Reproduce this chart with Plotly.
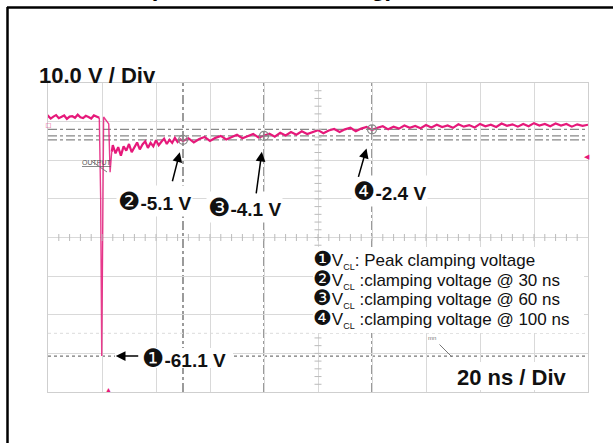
import plotly.graph_objects as go

# ---------------- data (ns, V) ----------------
pre_t = [-2.2, -1, 0, 1, 2, 3, 4, 5, 6, 7, 8, 9, 10, 11, 12, 13, 14, 15, 16, 17, 18, 19]
pre_v = [0.9, 0.5, 1.1, 0.4, 0.9, 1.3, 0.5, 0.8, 1.2, 0.3, 0.9, 1.0, 0.6, 1.4, 0.7, 0.5, 1.1, 0.8, 0.4, 1.2, 0.9, 0.6]

pulse_t = [19, 19.5, 19.9, 20.3, 20.6, 22.5, 23.0, 23.6]
pulse_v = [0.6, -20.0, -61.1, -35.0, 0.8, -1.0, -13.5, -8.2]

post_t = [23.6, 24, 25, 26, 27, 28, 29, 30, 31, 32, 33, 34, 35, 36, 37, 38, 39, 40, 41, 42, 43, 44, 45, 46,
          47, 48, 49, 50, 52, 54, 56, 58, 60, 62, 64, 66, 68, 70, 72, 74, 76, 78, 80, 82, 84, 86, 88, 90,
          92, 94, 96, 98, 100, 102, 104, 106, 108, 110, 112, 114, 116, 118, 120, 122, 124, 126, 128, 130,
          132, 134, 136, 138, 140, 142, 144, 146, 148, 150, 152, 154, 156, 158, 160, 162, 164, 166, 168,
          170, 172, 174, 176, 178, 180, 182, 184, 186, 188, 190, 192, 194, 196, 198, 200]
post_v = [-8.2, -6.5, -8.6, -7.0, -9.2, -6.8, -7.9, -6.2, -8.3, -6.9, -5.8, -7.6, -6.3, -5.5, -7.2, -5.9,
          -6.8, -5.2, -6.5, -5.6, -4.8, -6.2, -5.1, -5.9, -4.6, -5.7, -5.0, -5.4, -4.7, -5.8, -4.9, -4.4,
          -5.4, -4.6, -4.1, -5.0, -4.3, -3.8, -4.7, -4.2, -3.6, -4.5, -4.0, -3.5, -4.3, -3.3, -4.0, -3.1,
          -3.8, -2.9, -3.6, -3.0, -2.6, -3.4, -2.7, -2.3, -3.1, -2.4, -2.0, -2.9, -2.2, -1.8, -2.6, -2.0,
          -1.6, -2.4, -1.7, -2.2, -1.4, -2.0, -1.5, -2.1, -1.3, -1.9, -1.2, -1.8, -1.4, -2.0, -1.1, -1.7,
          -1.3, -1.9, -1.0, -1.6, -1.2, -1.8, -0.9, -1.5, -1.1, -1.7, -1.0, -1.6, -0.8, -1.4, -1.0, -1.6,
          -0.9, -1.4, -1.0, -1.7, -1.1, -1.5, -1.2]

cursor_t = [50, 80, 120]          # ns
cursor_v = [-5.1, -4.1, -2.4]     # V
peak_t = 19.9
peak_v = -61.1
faint_v = -55.2
labels = ["\u2777-5.1 V", "\u2778-4.1 V", "\u2779-2.4 V"]
peak_label = "\u2776-61.1 V"
legend_num = ["\u2776", "\u2777", "\u2778", "\u2779"]
legend_txt = [": Peak clamping voltage",
              " :clamping voltage @ 30 ns",
              " :clamping voltage @ 60 ns",
              " :clamping voltage @ 100 ns"]

X0, X1 = 0, 200
Y0, Y1 = -70.4, 9.6
PINK = "#e6197a"

# plot area in pixels
L, R, T, B = 48, 588, 83, 392
W, H = 613, 443


def px(x):
    return (x - L) / (R - L)


def py(y):
    return (B - y) / (B - T)


fig = go.Figure()

fig.add_trace(go.Scatter(x=pre_t, y=pre_v, mode="lines",
                         line=dict(color=PINK, width=2.2), hoverinfo="skip"))
fig.add_trace(go.Scatter(x=pulse_t, y=pulse_v, mode="lines",
                         line=dict(color=PINK, width=1.4), opacity=0.85, hoverinfo="skip"))
fig.add_trace(go.Scatter(x=post_t, y=post_v, mode="lines",
                         line=dict(color=PINK, width=2.2), hoverinfo="skip"))

# cursor markers
fig.add_trace(go.Scatter(x=cursor_t, y=cursor_v, mode="markers",
                         marker=dict(symbol="circle-cross-open", size=9, color="#888888",
                                     line=dict(width=1.2, color="#888888")), hoverinfo="skip"))

# center-line minor ticks
ct = [X0 + i * 4 for i in range(1, 50)]
cv = [Y0 + i * 2 for i in range(1, 40)]
ymid = (Y0 + Y1) / 2
xmid = (X0 + X1) / 2
fig.add_trace(go.Scatter(x=ct, y=[ymid] * len(ct), mode="markers",
                         marker=dict(symbol="line-ns", size=5, line=dict(width=1, color="#bbbbbb")),
                         hoverinfo="skip"))
fig.add_trace(go.Scatter(x=[xmid] * len(cv), y=cv, mode="markers",
                         marker=dict(symbol="line-ew", size=5, line=dict(width=1, color="#bbbbbb")),
                         hoverinfo="skip"))

shapes = []
for t in cursor_t:
    shapes.append(dict(type="line", xref="x", yref="y", x0=t, x1=t, y0=Y0, y1=Y1,
                       line=dict(color="#666666", width=1.3, dash="dashdot"), layer="below"))
for v in cursor_v:
    shapes.append(dict(type="line", xref="x", yref="y", x0=X0, x1=X1, y0=v, y1=v,
                       line=dict(color="#888888", width=1.2, dash="dashdot"), layer="below"))
shapes.append(dict(type="line", xref="x", yref="y", x0=X0, x1=X1, y0=peak_v, y1=peak_v,
                   line=dict(color="#777777", width=1.2, dash="dot"), layer="below"))
shapes.append(dict(type="line", xref="x", yref="y", x0=X0, x1=X1, y0=faint_v, y1=faint_v,
                   line=dict(color="#e2e2e2", width=1.2, dash="dot"), layer="below"))

# white boxes
shapes.append(dict(type="rect", xref="paper", yref="paper", x0=px(313), x1=px(584), y0=py(333), y1=py(247),
                   fillcolor="white", line=dict(width=0), layer="above"))
shapes.append(dict(type="rect", xref="paper", yref="paper", x0=px(115), x1=px(233), y0=py(368), y1=py(348),
                   fillcolor="white", line=dict(width=0), layer="above"))
shapes.append(dict(type="rect", xref="paper", yref="paper", x0=px(450), x1=px(580), y0=py(390), y1=py(362),
                   fillcolor="white", line=dict(width=0), layer="above"))

# black page frame
shapes.append(dict(type="line", xref="paper", yref="paper", x0=px(7), x1=px(613), y0=py(7.5), y1=py(7.5),
                   line=dict(color="black", width=2.5)))
shapes.append(dict(type="line", xref="paper", yref="paper", x0=px(7.5), x1=px(7.5), y0=py(7), y1=py(443),
                   line=dict(color="black", width=2.5)))

ann = []
# cut-off heading fragments at the very top (only their lowest pixels are on the page)
ann.append(dict(xref="paper", yref="paper", x=px(148), y=py(2), xanchor="left", yanchor="bottom",
                text="<b>(</b>", showarrow=False, borderpad=0,
                font=dict(family="Liberation Sans", size=24, color="black")))
ann.append(dict(xref="paper", yref="paper", x=px(370), y=py(2), xanchor="left", yanchor="bottom",
                text="<b>g)</b>", showarrow=False, borderpad=0,
                font=dict(family="Liberation Sans", size=24, color="black")))

ann.append(dict(xref="paper", yref="paper", x=px(37), y=py(75), xanchor="left", yanchor="middle",
                text="<b>10.0 V / Div</b>", showarrow=False,
                font=dict(family="Liberation Sans, Arial", size=22, color="#111111")))
ann.append(dict(xref="paper", yref="paper", x=px(455), y=py(377), xanchor="left", yanchor="middle",
                text="<b>20 ns / Div</b>", showarrow=False,
                font=dict(family="Liberation Sans, Arial", size=22, color="#111111")))

lab_pos = [(116, 201), (206, 207), (351, 191)]
for (lx, ly), txt in zip(lab_pos, labels):
    c, rest = txt[0], txt[1:]
    ann.append(dict(xref="paper", yref="paper", x=px(lx), y=py(ly), xanchor="left", yanchor="middle",
                    text=f"<span style='font-size:25px'>{c}</span><b>{rest}</b>", showarrow=False,
                    bgcolor="white", borderpad=1,
                    font=dict(family="Liberation Sans, DejaVu Sans", size=19, color="#111111")))
ann.append(dict(xref="paper", yref="paper", x=px(140), y=py(358), xanchor="left", yanchor="middle",
                text=f"<span style='font-size:25px'>{peak_label[0]}</span><b>{peak_label[1:]}</b>",
                showarrow=False,
                font=dict(family="Liberation Sans, DejaVu Sans", size=19, color="#111111")))

leg_y = [259, 279, 298, 318]
for ly, num, txt in zip(leg_y, legend_num, legend_txt):
    ann.append(dict(xref="paper", yref="paper", x=px(312), y=py(ly), xanchor="left", yanchor="middle",
                    text=(f"<span style='font-size:21px'>{num}</span>V"
                          f"<sub><span style='font-size:9px'>CL</span></sub>{txt}"),
                    showarrow=False, borderpad=0,
                    font=dict(family="Liberation Sans, DejaVu Sans", size=17, color="#111111")))

# arrows
arrow_off = [(-11, 43, 13), (-8, 59, 16), (-14, 49, 20)]
for t, v, (ax, ay, so) in zip(cursor_t, cursor_v, arrow_off):
    ann.append(dict(xref="x", yref="y", x=t, y=v, ax=ax, ay=ay, text="", showarrow=True,
                    arrowhead=2, arrowsize=1.3, arrowwidth=1.5, arrowcolor="black", standoff=so))
ann.append(dict(xref="x", yref="y", x=peak_t, y=peak_v, ax=38, ay=0, text="", showarrow=True,
                arrowhead=2, arrowsize=1.3, arrowwidth=1.5, arrowcolor="black", standoff=14))

# scope decorations
ann.append(dict(xref="paper", yref="paper", x=px(80), y=py(157), text="<u>OUTPUT</u>", showarrow=False,
                font=dict(family="Liberation Sans", size=7, color="#555555")))
ann.append(dict(xref="paper", yref="paper", x=px(107), y=py(172), ax=-17, ay=-12, text="", showarrow=True,
                arrowhead=0, arrowwidth=1, arrowcolor="#777777"))
ann.append(dict(xref="paper", yref="paper", x=px(452), y=py(357), ax=-14, ay=-14, text="", showarrow=True,
                arrowhead=0, arrowwidth=1, arrowcolor="#777777"))
ann.append(dict(xref="paper", yref="paper", x=px(438), y=py(343), text="mn", showarrow=False,
                font=dict(family="Liberation Sans", size=6, color="#777777")))
ann.append(dict(xref="paper", yref="paper", x=px(103), y=py(396), text="\u25b2", showarrow=False,
                font=dict(size=7, color=PINK)))
ann.append(dict(xref="paper", yref="paper", x=px(592), y=py(150), text="\u25c0", showarrow=False,
                font=dict(size=7, color=PINK)))
ann.append(dict(xref="paper", yref="paper", x=px(44), y=py(117), text="\u25a1", showarrow=False,
                font=dict(size=8, color=PINK)))

fig.update_layout(
    width=W, height=H,
    margin=dict(l=L, r=W - R, t=T, b=H - B),
    paper_bgcolor="white", plot_bgcolor="white",
    showlegend=False,
    shapes=shapes, annotations=ann,
    xaxis=dict(range=[X0, X1], dtick=20, tick0=0, showgrid=True, gridcolor="#d9d9d9", gridwidth=1,
               showticklabels=False, ticks="", zeroline=False, showline=True, linecolor="#cfcfcf",
               mirror=True, fixedrange=True),
    yaxis=dict(range=[Y0, Y1], dtick=10, tick0=Y1, showgrid=True, gridcolor="#d9d9d9", gridwidth=1,
               showticklabels=False, ticks="", zeroline=False, showline=True, linecolor="#cfcfcf",
               mirror=True, fixedrange=True),
)

fig.write_html("out.html")
